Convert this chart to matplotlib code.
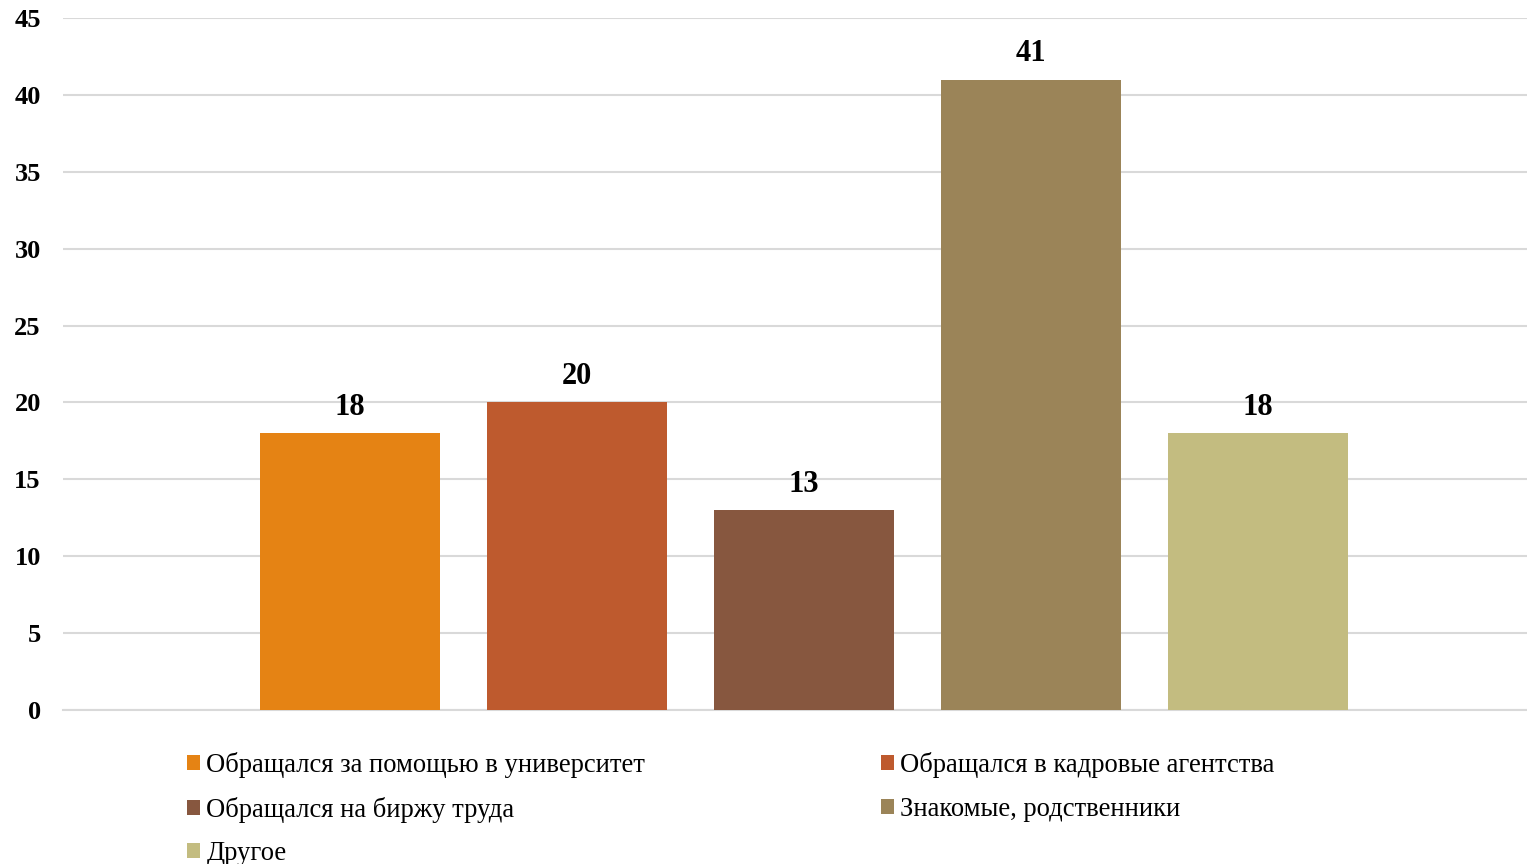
import matplotlib.pyplot as plt
import numpy as np
from matplotlib.patches import Patch

plt.rcParams['font.family'] = ['Liberation Serif', 'DejaVu Serif']

labels = ['Обращался за помощью в университет',
          'Обращался в кадровые агентства',
          'Обращался на биржу труда',
          'Знакомые, родственники',
          'Другое']
values = [18, 20, 13, 41, 18]
colors = ['#E58314', '#BE5A2E', '#87573F', '#9B8458', '#C3BC80']
yticks = [0, 5, 10, 15, 20, 25, 30, 35, 40, 45]

fig = plt.figure(figsize=(15.27, 8.64), dpi=100)
ax = fig.add_axes([63/1527, 1 - 710/864, 1 - 63/1527, (710 - 18)/864])

x = np.arange(len(values))
bars = ax.bar(x, values, width=0.79, color=colors, zorder=3)

for xi, v in zip(x, values):
    ax.text(xi, v + 0.75, str(v), ha='center', va='bottom',
            fontsize=22, fontweight='bold')

ax.set_ylim(0, 45)
ax.set_xlim(-1.264, 5.185)
ax.set_yticks(yticks)
ax.set_yticklabels([str(t) for t in yticks], fontsize=19, fontweight='bold')
ax.set_xticks([])
ax.tick_params(axis='y', length=0, pad=16)
ax.grid(True, axis='y', color='#D9D9D9', linewidth=1.5, zorder=0)
for s in ['top', 'right', 'left']:
    ax.spines[s].set_visible(False)
ax.spines['bottom'].set_color('#D9D9D9')
ax.spines['bottom'].set_linewidth(1.5)

# legend, column-major order so rows read like the original
order = [0, 2, 4, 1, 3]
handles = [Patch(facecolor=colors[i], label=labels[i]) for i in order]
leg = fig.legend(handles=handles, ncol=2, loc='upper left',
                 bbox_to_anchor=(187/1527, 1 - 752/864), frameon=False,
                 fontsize=19.15, handlelength=0.5, handleheight=0.5,
                 handletextpad=0.23, labelspacing=0.7, columnspacing=8.85,
                 borderaxespad=0, borderpad=0)

fig.savefig('out.png', dpi=100)
